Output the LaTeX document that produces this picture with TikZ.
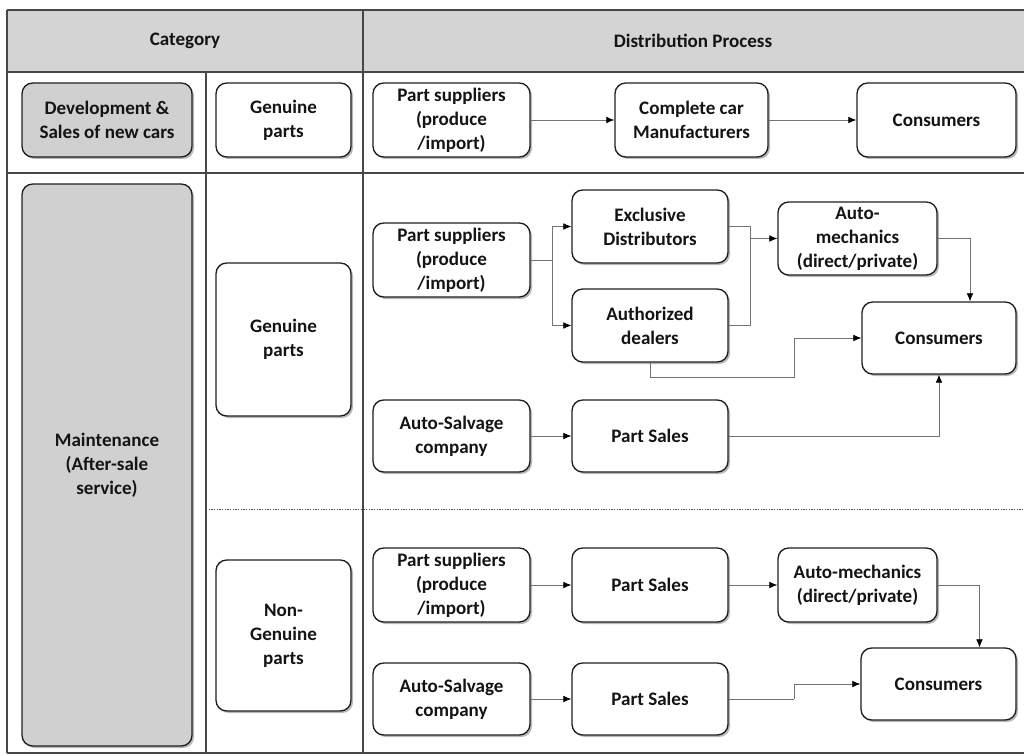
\documentclass[tikz,border=0pt]{standalone}
\usepackage{fontspec}
\setmainfont{Carlito}
\usetikzlibrary{arrows.meta,shadows,calc}
\definecolor{graybox}{RGB}{208,208,208}
\definecolor{headgray}{RGB}{212,212,212}
\newcommand\mybox[7][]{\node[pbox={#5-#3}{#6-#4},#1] (#2) at ({(#3+#5)/2},{(#4+#6)/2}) {#7};}
\begin{document}
\begin{tikzpicture}[x=0.75pt,y=-0.75pt,
  pbox/.style 2 args={draw=black!88, line width=1pt, rounded corners=8pt, fill=white,
    minimum width={(#1)*0.75pt}, minimum height={(#2)*0.75pt}, inner sep=0pt, align=center,
    font=\bfseries\fontsize{14.3}{18}\selectfont, text=black!92,
    drop shadow={shadow xshift=1.5pt, shadow yshift=-1.5pt, fill=black, opacity=0.28}},
  gbox/.style={fill=graybox},
  arr/.style={draw=black!55, line width=0.6pt, -{Latex[length=6pt,width=5pt,color=black]}},
  ln/.style={draw=black!55, line width=0.6pt},
  tline/.style={draw=black!72, line width=1.1pt},
  headtxt/.style={font=\bfseries\fontsize{14.3}{18}\selectfont, text=black!92}]
\useasboundingbox (0,0) rectangle (1024,756);
% table
\fill[headgray] (7,10) rectangle (1024,72);
\draw[tline] (7,10) -- (1024,10);
\draw[tline] (7,72) -- (1024,72);
\draw[tline] (7,173) -- (1024,173);
\draw[tline] (7,753) -- (1024,753);
\draw[tline] (7,10) -- (7,753);
\draw[tline] (363,10) -- (363,753);
\draw[tline] (206,72) -- (206,753);
\draw[draw=black!70, line width=0.7pt, dash pattern=on 1pt off 1pt] (206,509) -- (1024,509);
\node[headtxt] (hcat) at (185,41) {Category};
\node[headtxt] (hdist) at (693,41) {Distribution Process};
% left column
\mybox[gbox]{dev}{22}{83}{192}{157}{Development \&\\Sales of new cars}
\mybox{gp1}{216}{83}{351}{157}{Genuine\\parts}
\mybox[gbox]{maint}{22}{184}{192}{746}{Maintenance\\(After-sale\\service)}
\mybox{gp2}{216}{263}{351}{416}{Genuine\\parts}
\mybox{ngp}{216}{560}{351}{711}{Non-\\Genuine\\parts}
% row 1
\mybox{ps1}{373}{83}{530}{157}{Part suppliers\\(produce\\/import)}
\mybox{ccm}{615}{83}{768}{157}{Complete car\\Manufacturers}
\mybox{con1}{857}{83}{1016}{157}{Consumers}
\draw[arr] (ps1) -- (ccm);
\draw[arr] (ccm) -- (con1);
% genuine maintenance
\mybox{ps2}{373}{223}{530}{297}{Part suppliers\\(produce\\/import)}
\mybox{ex}{572}{190}{728}{263}{Exclusive\\Distributors}
\mybox{ad}{572}{289}{728}{362}{Authorized\\dealers}
\mybox{am}{778}{202}{937}{275}{Auto-\\mechanics\\(direct/private)}
\mybox{con2}{862}{302}{1016}{374}{Consumers}
\mybox{as1}{373}{400}{530}{472}{Auto-Salvage\\company}
\mybox{psl1}{572}{400}{728}{472}{Part Sales}
\coordinate (split1) at (552,260);
\coordinate (merge1) at (750,238.5);
\coordinate (j1) at (794,377);
\draw[ln] (ps2.east) -- (split1);
\draw[arr] (split1) |- (ex.west);
\draw[arr] (split1) |- (ad.west);
\draw[ln] (ex.east) -| (merge1);
\draw[ln] (ad.east) -| (merge1);
\draw[arr] (merge1) -- (am.west);
\draw[arr] (am.east) -| ($(con2.north)+(31,0)$);
\draw[arr] (ad.south) |- (j1) |- (con2.west);
\draw[arr] (as1) -- (psl1);
\draw[arr] (psl1.east) -| (con2.south);
% non-genuine
\mybox{ps3}{373}{548}{530}{622}{Part suppliers\\(produce\\/import)}
\mybox{psl2}{572}{548}{728}{622}{Part Sales}
\mybox{am2}{778}{548}{937}{622}{Auto-mechanics\\(direct/private)}
\mybox{con3}{861}{648}{1016}{720}{Consumers}
\mybox{as2}{373}{663}{530}{735}{Auto-Salvage\\company}
\mybox{psl3}{572}{663}{728}{735}{Part Sales}
\coordinate (j2) at (794,699);
\draw[arr] (ps3) -- (psl2);
\draw[arr] (psl2) -- (am2);
\draw[arr] (am2.east) -| ($(con3.north)+(41,0)$);
\draw[arr] (as2) -- (psl3);
\draw[ln] (psl3.east) -- (j2);
\draw[arr] (j2) |- (con3.west);
\end{tikzpicture}
\end{document}
